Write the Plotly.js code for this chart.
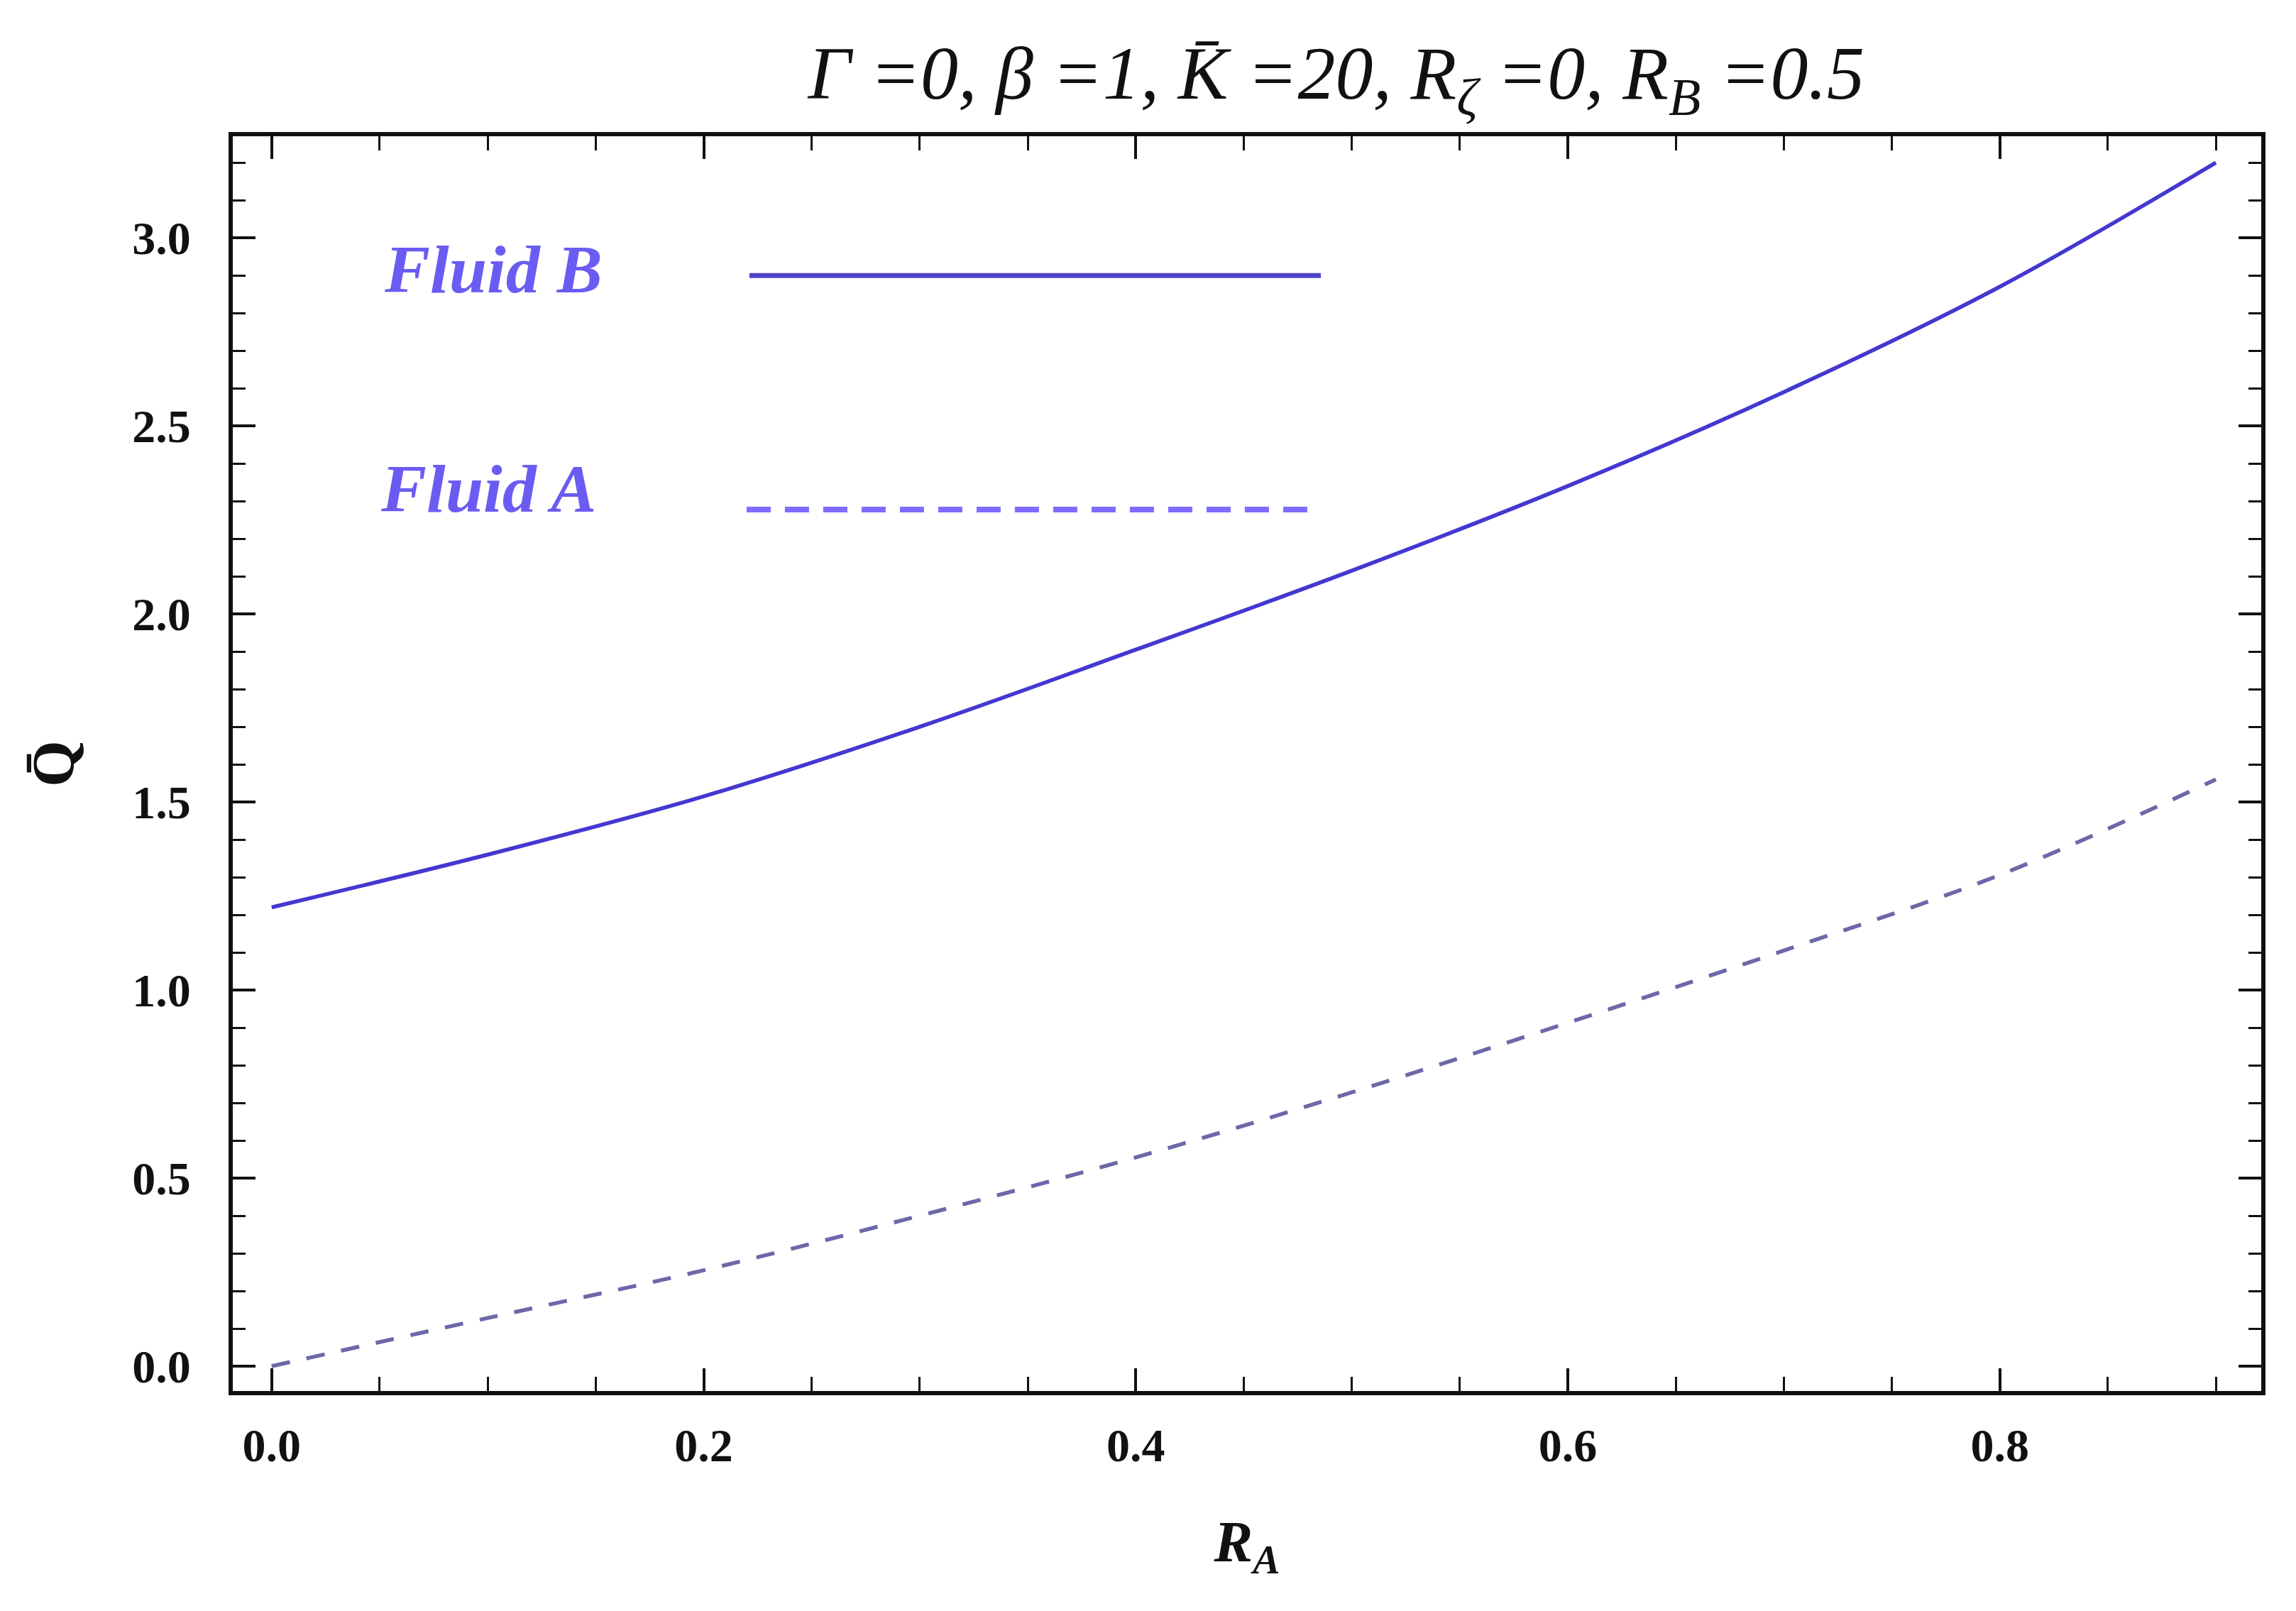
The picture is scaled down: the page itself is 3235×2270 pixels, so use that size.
<!DOCTYPE html>
<html>
<head>
<meta charset="utf-8">
<script src="https://cdn.plot.ly/plotly-3.0.1.min.js"></script>
<style>
  html, body { margin: 0; padding: 0; background: #fff; }
  #plot { width: 3235px; height: 2270px; }
</style>
</head>
<body>
<div id="plot"></div>
<script>
/* ── data ── */
const RA      = [0, 0.1, 0.2, 0.3, 0.4, 0.5, 0.6, 0.7, 0.8, 0.9];
const fluidB  = [1.22, 1.36, 1.515, 1.70, 1.905, 2.115, 2.34, 2.59, 2.87, 3.20];
const fluidA  = [0, 0.128, 0.255, 0.40, 0.555, 0.728, 0.913, 1.105, 1.306, 1.56];
const xTicks  = [0, 0.2, 0.4, 0.6, 0.8];
const yTicks  = [0, 0.5, 1, 1.5, 2, 2.5, 3];
const names   = ['Fluid B', 'Fluid A'];

const SERIF = '"Liberation Serif", "DejaVu Serif", serif';
const INK   = '#111';

const axisBase = {
  showgrid: false, zeroline: false,
  showline: true, linecolor: INK, linewidth: 6, mirror: 'allticks',
  ticks: 'inside', ticklen: 32, tickwidth: 4, tickcolor: INK,
  tickformat: '.1f',
  tickfont: { family: SERIF, size: 66, color: INK, weight: 'bold' }
};

const traces = [
  {
    x: RA, y: fluidB, name: names[0], mode: 'lines',
    line: { color: '#4338d0', width: 5.5, shape: 'spline' }
  },
  {
    x: RA, y: fluidA, name: names[1], mode: 'lines',
    line: { color: '#6c68a8', width: 5.5, shape: 'spline', dash: '26px,24px' }
  }
];

const legendFont = { family: SERIF, size: 96, color: '#6a5cf2' };

const layout = {
  width: 3235, height: 2270,
  paper_bgcolor: '#fff', plot_bgcolor: '#fff',
  showlegend: false,
  margin: { l: 328, r: 49, t: 192, b: 310 },
  title: {
    text: '<i>Γ =0, β =1, K\u0304 =20, R<sub>ζ</sub> =0, R<sub>B</sub> =0.5</i>',
    font: { family: SERIF, size: 106, color: INK },
    x: 0.582, xref: 'container', xanchor: 'center',
    y: 0.955, yref: 'container', yanchor: 'middle'
  },
  xaxis: {
    ...axisBase,
    range: [-0.018, 0.921],
    tickvals: xTicks,
    ticklabelstandoff: 14,
    minor: { tick0: 0, dtick: 0.05, ticks: 'inside', ticklen: 20, tickwidth: 3, tickcolor: INK },
    title: { text: '<b><i>R<sub>A</sub></i></b>', font: { family: SERIF, size: 82, color: INK }, standoff: 72 }
  },
  yaxis: {
    ...axisBase,
    range: [-0.066, 3.27],
    tickvals: yTicks,
    ticklabelstandoff: 40,
    minor: { tick0: 0, dtick: 0.1, ticks: 'inside', ticklen: 18, tickwidth: 3, tickcolor: INK },
    title: { text: '<b>Q\u0304</b>', font: { family: SERIF, size: 84, color: INK }, standoff: 56 }
  },
  annotations: [
    { text: '<b><i>' + names[0] + '</i></b>', xref: 'paper', yref: 'paper', x: 0.074, y: 0.894,
      xanchor: 'left', yanchor: 'middle', showarrow: false, font: legendFont },
    { text: '<b><i>' + names[1] + '</i></b>', xref: 'paper', yref: 'paper', x: 0.072, y: 0.719,
      xanchor: 'left', yanchor: 'middle', showarrow: false, font: legendFont }
  ],
  shapes: [
    { type: 'line', xref: 'paper', yref: 'paper', x0: 0.2547, x1: 0.5364, y0: 0.889, y1: 0.889,
      line: { color: '#4f45c8', width: 7 } },
    { type: 'line', xref: 'paper', yref: 'paper', x0: 0.2533, x1: 0.535, y0: 0.7025, y1: 0.7025,
      line: { color: '#7d6cff', width: 8, dash: '34px,20px' } }
  ]
};

Plotly.newPlot('plot', traces, layout, { staticPlot: true, displayModeBar: false });
</script>
</body>
</html>
